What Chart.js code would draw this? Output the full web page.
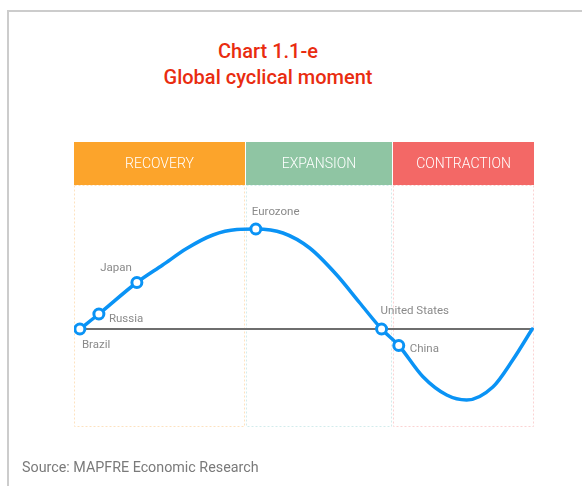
<!DOCTYPE html>
<html>
<head>
<meta charset="utf-8">
<script src="https://cdn.jsdelivr.net/npm/chart.js@4.4.1/dist/chart.umd.min.js"></script>
<style>
  html, body { margin: 0; padding: 0; background: #fff; }
  #wrap { position: relative; width: 582px; height: 486px; overflow: hidden; font-family: Roboto, "Noto Sans", sans-serif; }
  #frame { position: absolute; left: 7px; top: 10px; width: 620px; height: 520px; border-left: 2px solid #cccccc; border-top: 2px solid #cccccc; }
  #title { position: absolute; left: 0; width: 536px; top: 38px; text-align: center; color: #e92c10; font-size: 20px; line-height: 26px; font-weight: 500; }
  #source { position: absolute; left: 22px; top: 457px; color: #7a7a7a; font-size: 14.3px; line-height: 20px; }
  canvas { position: absolute; left: 0; top: 0; }
</style>
</head>
<body>
<div id="wrap">
  <div id="frame"></div>
  <div id="title">Chart 1.1-e<br>Global cyclical moment</div>
  <canvas id="cycle" width="582" height="486"></canvas>
  <div id="source">Source: MAPFRE Economic Research</div>
</div>
<script>
// cycle phases and where they start / end along the cycle (0 = trough, 100 = next trough)
const phases = ['RECOVERY', 'EXPANSION', 'CONTRACTION'];
const phaseBounds = [-1.3, 36.45, 69.05, 100.4];

// the business cycle curve
const cycleX = [0, 4.2, 12.6, 18.3, 23.6, 29.4, 34.7, 38.9, 44.9, 50.8, 56.8, 61.9, 66.7, 70.5, 75.8, 81.1, 85.5, 91.3, 95.7, 100];
const cycleY = [0, 0.15, 0.465, 0.64, 0.805, 0.94, 0.995, 1.0, 0.96, 0.81, 0.54, 0.26, 0, -0.165, -0.475, -0.66, -0.71, -0.58, -0.31, 0];

// where each economy sits on the cycle
const countries = ['Brazil', 'Russia', 'Japan', 'Eurozone', 'United States', 'China'];
const countryX = [0, 4.2, 12.6, 38.9, 66.7, 70.5];
const countryY = [0, 0.15, 0.465, 1.0, 0, -0.165];

const phaseStyles = [
  {fill: '#fca42b', line: '#fde2c0'},
  {fill: '#8fc5a3', line: '#d3ecec'},
  {fill: '#f36866', line: '#fbd3d3'}
];
// label placement relative to the marker: dx, dy, align
const labelPlacement = {
  'Brazil': [2, 16, 'left'],
  'Russia': [10, 5, 'left'],
  'Japan': [-5, -14, 'right'],
  'Eurozone': [-4, -17, 'left'],
  'United States': [-1, -18, 'left'],
  'China': [11, 3.5, 'left']
};
const headerHeight = 43;

const phasesPlugin = {
  id: 'phases',
  beforeDatasetsDraw: (chart) => {
    const ctx = chart.ctx;
    const area = chart.chartArea;
    const x = chart.scales.x;
    ctx.save();
    phases.forEach((name, i) => {
      const left = Math.round(x.getPixelForValue(phaseBounds[i])) + (i > 0 ? 1 : 0);
      const right = Math.round(x.getPixelForValue(phaseBounds[i + 1]));
      const style = phaseStyles[i];
      // column outline
      ctx.setLineDash([2, 2]);
      ctx.lineWidth = 1;
      ctx.strokeStyle = style.line;
      ctx.strokeRect(left + 0.5, area.top + 0.5, right - left - 1, area.bottom - area.top - 1);
      ctx.setLineDash([]);
      // header box
      ctx.fillStyle = style.fill;
      ctx.fillRect(left, area.top - headerHeight, right - left, headerHeight);
      ctx.fillStyle = '#ffffff';
      ctx.font = '300 14px Roboto, sans-serif';
      ctx.textAlign = 'center';
      ctx.textBaseline = 'middle';
      ctx.fillText(name, (left + right) / 2, area.top - headerHeight / 2 + 0.5);
    });
    ctx.restore();
  },
  afterDatasetsDraw: (chart) => {
    const ctx = chart.ctx;
    const meta = chart.getDatasetMeta(2).data;
    ctx.save();
    ctx.fillStyle = '#8a8a8a';
    ctx.font = '11.5px Roboto, sans-serif';
    ctx.textBaseline = 'middle';
    countries.forEach((name, i) => {
      const p = labelPlacement[name];
      ctx.textAlign = p[2];
      ctx.fillText(name, meta[i].x + p[0], meta[i].y + p[1]);
    });
    ctx.restore();
  }
};

new Chart(document.getElementById('cycle'), {
  type: 'line',
  data: {
    datasets: [
      {
        // axis of the cycle
        data: [{x: cycleX[0], y: 0}, {x: cycleX[cycleX.length - 1], y: 0}],
        borderColor: '#6e6e6e',
        borderWidth: 2,
        pointRadius: 0,
        order: 3
      },
      {
        data: cycleX.map((v, i) => ({x: v, y: cycleY[i]})),
        borderColor: '#0a93f5',
        borderWidth: 3.5,
        pointRadius: 0,
        cubicInterpolationMode: 'monotone',
        borderCapStyle: 'round',
        order: 2
      },
      {
        data: countryX.map((v, i) => ({x: v, y: countryY[i]})),
        showLine: false,
        pointRadius: 5,
        pointBorderWidth: 3,
        pointBackgroundColor: '#ffffff',
        pointBorderColor: '#0a93f5',
        order: 1
      }
    ]
  },
  options: {
    responsive: false,
    animation: false,
    devicePixelRatio: 1,
    layout: {
      padding: {left: 74, right: 48, top: 185, bottom: 59}
    },
    plugins: {
      legend: {display: false},
      tooltip: {enabled: false}
    },
    scales: {
      x: {type: 'linear', display: false, min: phaseBounds[0], max: phaseBounds[3]},
      y: {display: false, min: -0.98, max: 1.44}
    }
  },
  plugins: [phasesPlugin]
});
</script>
</body>
</html>
